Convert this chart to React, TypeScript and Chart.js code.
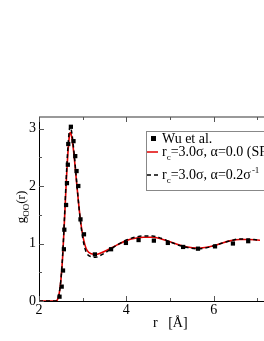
import React, { useEffect, useRef } from "react";
import { Chart, registerables } from "chart.js";
Chart.register(...registerables);

const wuX = [2.47, 2.52, 2.55, 2.57, 2.58, 2.62, 2.64, 2.66, 2.67, 2.73, 2.79, 2.83, 2.86, 2.9, 2.95, 3.03, 3.28, 3.65, 3.99, 4.28, 4.63, 4.95, 5.3, 5.64, 6.03, 6.44, 6.79];
const wuY = [0.075, 0.25, 0.53, 0.9, 1.24, 1.67, 2.05, 2.37, 2.73, 3.03, 2.78, 2.52, 2.26, 2.0, 1.42, 1.16, 0.81, 0.9, 1.01, 1.06, 1.05, 1.01, 0.94, 0.91, 0.95, 1.0, 1.04];

const curveX = [2.0, 2.38, 2.42, 2.46, 2.5, 2.54, 2.58, 2.62, 2.66, 2.7, 2.72, 2.75, 2.8, 2.85, 2.9, 2.95, 3.0, 3.05, 3.1, 3.2, 3.3, 3.4, 3.6, 3.8, 4.0, 4.2, 4.4, 4.6, 4.8, 5.0, 5.2, 5.4, 5.6, 5.8, 6.0, 6.2, 6.4, 6.6, 6.8, 7.0, 7.2];
const sfY = [0, 0, 0.02, 0.12, 0.35, 0.75, 1.35, 2.0, 2.55, 2.9, 2.93, 2.85, 2.55, 2.15, 1.75, 1.4, 1.15, 0.98, 0.88, 0.82, 0.81, 0.83, 0.9, 0.98, 1.05, 1.09, 1.11, 1.11, 1.08, 1.03, 0.98, 0.94, 0.92, 0.93, 0.96, 1.01, 1.05, 1.07, 1.07, 1.06, 1.05];
const dampY = [0, 0, 0.02, 0.12, 0.36, 0.78, 1.4, 2.08, 2.65, 3.0, 3.03, 2.93, 2.6, 2.18, 1.75, 1.38, 1.1, 0.92, 0.82, 0.77, 0.76, 0.79, 0.88, 0.98, 1.06, 1.11, 1.13, 1.13, 1.09, 1.03, 0.97, 0.93, 0.91, 0.92, 0.96, 1.01, 1.05, 1.08, 1.08, 1.06, 1.05];

const xMajor = [2, 4, 6];
const xMinor = [3, 5, 7];
const yMajor = [0, 1, 2, 3];
const yMinor = [0.5, 1.5, 2.5];

const FONT = '"Liberation Serif", "DejaVu Serif", serif';

const decorPlugin = {
  id: "decor",
  afterDatasetsDraw(chart: any) {
    const ctx = chart.ctx;
    const xs = chart.scales.x;
    const ys = chart.scales.y;
    const a = chart.chartArea;
    ctx.save();
    // top frame
    ctx.strokeStyle = "#999";
    ctx.lineWidth = 2;
    ctx.beginPath();
    ctx.moveTo(a.left, a.top);
    ctx.lineTo(chart.width, a.top);
    ctx.stroke();
    // left and bottom axes
    ctx.strokeStyle = "#000";
    ctx.lineWidth = 1;
    ctx.beginPath();
    ctx.moveTo(a.left + 0.5, a.top);
    ctx.lineTo(a.left + 0.5, a.bottom + 0.5);
    ctx.lineTo(chart.width, a.bottom + 0.5);
    ctx.stroke();
    // ticks
    ctx.strokeStyle = "#555";
    ctx.beginPath();
    const xt = (v: number, len: number) => {
      const px = Math.round(xs.getPixelForValue(v)) + 0.5;
      ctx.moveTo(px, a.bottom);
      ctx.lineTo(px, a.bottom - len);
      ctx.moveTo(px, a.top);
      ctx.lineTo(px, a.top + len);
    };
    xMajor.forEach((v) => xt(v, 5));
    xMinor.forEach((v) => xt(v, 3));
    const yt = (v: number, len: number) => {
      const py = Math.round(ys.getPixelForValue(v)) + 0.5;
      ctx.moveTo(a.left, py);
      ctx.lineTo(a.left + len, py);
    };
    yMajor.forEach((v) => yt(v, 5));
    yMinor.forEach((v) => yt(v, 3));
    ctx.stroke();
    // tick labels
    ctx.fillStyle = "#000";
    ctx.font = "14px " + FONT;
    ctx.textAlign = "center";
    ctx.textBaseline = "top";
    xMajor.forEach((v) => {
      ctx.fillText(String(v), xs.getPixelForValue(v), a.bottom + 2);
    });
    ctx.textAlign = "right";
    ctx.textBaseline = "middle";
    yMajor.forEach((v) => {
      ctx.fillText(String(v), a.left - 3, ys.getPixelForValue(v));
    });
    // x title
    ctx.textAlign = "left";
    ctx.textBaseline = "middle";
    ctx.font = "14px " + FONT;
    ctx.fillText("r   [\u00C5]", 153, 323);
    // y title rotated
    ctx.save();
    ctx.translate(21, 207);
    ctx.rotate(-Math.PI / 2);
    ctx.font = "13px " + FONT;
    const wg = ctx.measureText("g").width;
    ctx.font = "9px " + FONT;
    const wsub = ctx.measureText("OO").width;
    ctx.font = "13px " + FONT;
    const wr = ctx.measureText("(r)").width;
    let x0 = -(wg + wsub + wr) / 2;
    ctx.textBaseline = "alphabetic";
    ctx.fillText("g", x0, 4);
    x0 += wg;
    ctx.font = "9px " + FONT;
    ctx.fillText("OO", x0, 8);
    x0 += wsub;
    ctx.font = "13px " + FONT;
    ctx.fillText("(r)", x0, 4);
    ctx.restore();

    // legend
    const lx = 146, ly = 131, lh = 59;
    ctx.fillStyle = "#fff";
    ctx.fillRect(lx, ly, chart.width - lx + 5, lh);
    ctx.strokeStyle = "#888";
    ctx.lineWidth = 1;
    ctx.strokeRect(lx + 0.5, ly + 0.5, chart.width - lx + 5, lh);
    ctx.fillStyle = "#000";
    // entry 1
    ctx.fillRect(151, 136, 5, 5);
    ctx.textAlign = "left";
    ctx.textBaseline = "alphabetic";
    ctx.font = "14px " + FONT;
    ctx.fillText("Wu et al.", 162, 143);
    // entry 2
    ctx.strokeStyle = "#e00000";
    ctx.lineWidth = 1.5;
    ctx.beginPath();
    ctx.moveTo(147, 152);
    ctx.lineTo(158, 152);
    ctx.stroke();
    const rc = (y: number, rest: string, sup?: string) => {
      let x = 162;
      ctx.font = "14px " + FONT;
      ctx.fillText("r", x, y);
      x += ctx.measureText("r").width;
      ctx.font = "9px " + FONT;
      ctx.fillText("c", x, y + 4);
      x += ctx.measureText("c").width;
      ctx.font = "14px " + FONT;
      ctx.fillText(rest, x, y);
      x += ctx.measureText(rest).width;
      if (sup) {
        ctx.font = "9px " + FONT;
        ctx.fillText(sup, x + 1, y - 6);
      }
    };
    rc(156, "=3.0\u03C3, \u03B1=0.0 (SF)");
    ctx.strokeStyle = "#000";
    ctx.setLineDash([4, 3]);
    ctx.beginPath();
    ctx.moveTo(147, 175);
    ctx.lineTo(158, 175);
    ctx.stroke();
    ctx.setLineDash([]);
    rc(179, "=3.0\u03C3, \u03B1=0.2\u03C3", "-1");
    ctx.restore();
  },
};

export default function App() {
  const ref = useRef<HTMLCanvasElement>(null);
  useEffect(() => {
    const canvas = ref.current!;
    const chart = new Chart(canvas, {
      type: "line",
      data: {
        datasets: [
          {
            label: "Wu et al.",
            data: wuX.map((x, i) => ({ x, y: wuY[i] })),
            showLine: false,
            pointStyle: "rect",
            pointRadius: 3,
            pointBackgroundColor: "#000",
            pointBorderColor: "#000",
            pointBorderWidth: 0,
            order: 0,
          },
          {
            label: "rc=3.0σ, α=0.2σ-1",
            data: curveX.map((x, i) => ({ x, y: dampY[i] })),
            borderColor: "#000",
            borderWidth: 1.5,
            borderDash: [4, 3],
            pointRadius: 0,
            cubicInterpolationMode: "monotone",
            order: 1,
          },
          {
            label: "rc=3.0σ, α=0.0 (SF)",
            data: curveX.map((x, i) => ({ x, y: sfY[i] })),
            borderColor: "#e00000",
            borderWidth: 1.6,
            pointRadius: 0,
            cubicInterpolationMode: "monotone",
            order: 2,
          },
        ],
      },
      options: {
        animation: false,
        responsive: false,
        maintainAspectRatio: false,
        layout: { padding: { left: 39, top: 117, right: 0, bottom: 40 } },
        plugins: { legend: { display: false }, tooltip: { enabled: false } },
        scales: {
          x: { type: "linear", min: 2, max: 7.06, display: false },
          y: { type: "linear", min: 0, max: 3.2, display: false },
        },
      },
      plugins: [decorPlugin],
    } as any);
    return () => chart.destroy();
  }, []);
  return (
    <div style={{ position: "absolute", left: 0, top: 0, width: 264, height: 341, background: "#fff" }}>
      <canvas ref={ref} width={264} height={341} style={{ width: 264, height: 341 }} />
    </div>
  );
}
